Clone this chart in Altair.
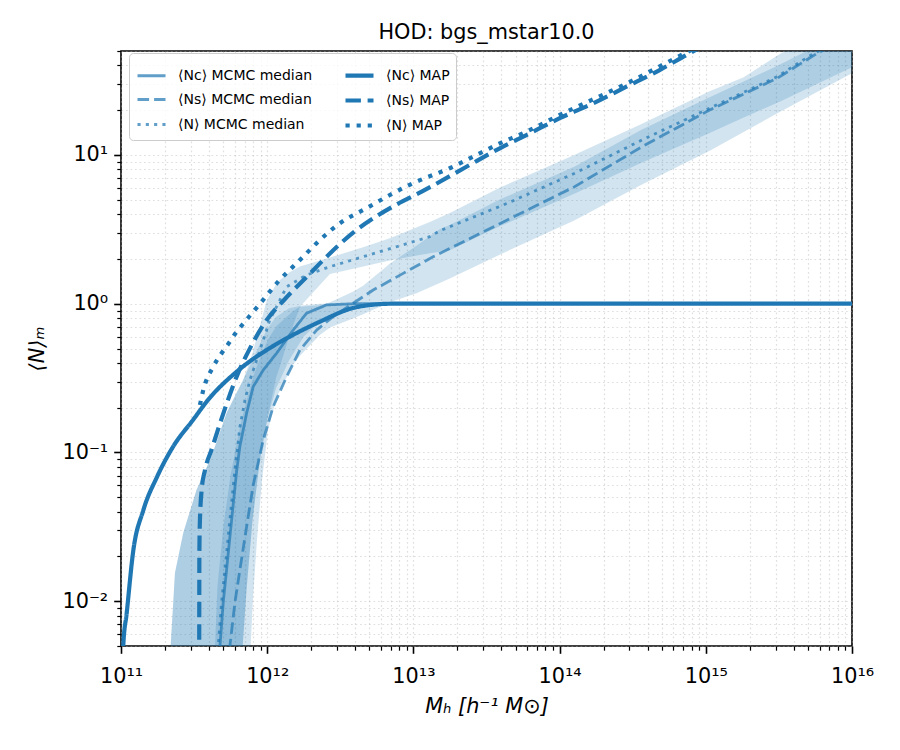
import numpy as np
import pandas as pd
import altair as alt

# ---------------- data (log10 values) ----------------
# MAP curves
map_nc_logm = [11.000, 11.016, 11.039, 11.084, 11.152, 11.246, 11.355, 11.492, 11.595,
               11.791, 12.018, 12.176, 12.360, 12.586, 12.700, 12.850, 16.000]
map_nc_logn = [-3.00, -2.29, -2.08, -1.66, -1.39, -1.165, -0.963, -0.782, -0.647,
               -0.457, -0.298, -0.210, -0.121, -0.029, -0.009, 0.000, 0.000]

map_ns_logm = [11.534, 11.535, 11.536, 11.540, 11.552, 11.574, 11.620, 11.699, 11.791,
               11.882, 11.996, 12.120, 12.290, 12.400, 12.590, 12.750, 12.880, 13.060,
               13.363, 13.591, 13.773, 14.001, 14.228, 14.457, 14.684, 14.889, 15.200, 16.000]
map_ns_logn = [-3.00, -2.30, -1.68, -1.45, -1.25, -1.12, -0.98, -0.74, -0.49,
               -0.30, -0.11, 0.03, 0.20, 0.31, 0.48, 0.59, 0.665, 0.755,
               0.921, 1.045, 1.134, 1.247, 1.347, 1.459, 1.571, 1.684, 1.84, 2.24]

map_n_logm = [11.540, 11.563, 11.631, 11.688, 11.745, 11.791, 11.848, 11.904, 11.962,
              12.018, 12.075, 12.224, 12.360, 12.497, 12.679, 12.839, 12.998, 13.271,
              13.431, 13.591, 13.750, 14.001, 14.457, 14.889, 15.200, 16.000]
map_n_logn = [-0.681, -0.580, -0.423, -0.333, -0.255, -0.188, -0.121, -0.054, 0.013,
              0.081, 0.148, 0.294, 0.428, 0.541, 0.642, 0.731, 0.810, 0.921,
              1.000, 1.078, 1.146, 1.269, 1.48, 1.70, 1.85, 2.24]

# MCMC medians
med_nc_logm = [11.670, 11.677, 11.699, 11.722, 11.757, 11.791, 11.813, 11.859, 11.904,
               11.973, 12.064, 12.178, 12.269, 12.406, 12.588, 16.000]
med_nc_logn = [-3.00, -2.30, -2.01, -1.79, -1.45, -1.125, -0.96, -0.737, -0.558,
               -0.446, -0.333, -0.177, -0.064, -0.008, 0.000, 0.000]

med_ns_logm = [11.740, 11.745, 11.779, 11.813, 11.859, 11.904, 11.973, 12.041, 12.133,
               12.224, 12.338, 12.451, 12.588, 12.725, 12.930, 13.135, 13.642, 14.103,
               14.564, 15.026, 15.487, 15.763, 16.000]
med_ns_logn = [-3.00, -2.30, -2.01, -1.79, -1.50, -1.22, -0.916, -0.692, -0.491,
               -0.311, -0.177, -0.087, 0.003, 0.092, 0.204, 0.316, 0.563, 0.787,
               1.056, 1.302, 1.515, 1.684, 1.80]

med_n_logm = [11.660, 11.665, 11.688, 11.711, 11.745, 11.779, 11.813, 11.848, 11.882,
              11.928, 11.973, 12.018, 12.064, 12.133, 12.269, 12.429, 12.656, 12.884,
              13.112, 13.180, 13.642, 14.103, 14.564, 15.026, 15.487, 15.740, 16.000]
med_n_logn = [-3.00, -2.30, -2.01, -1.79, -1.45, -1.12, -0.83, -0.647, -0.513,
              -0.378, -0.244, -0.109, -0.020, 0.114, 0.193, 0.249, 0.316, 0.383,
              0.451, 0.49, 0.675, 0.877, 1.101, 1.314, 1.526, 1.684, 1.80]

# MCMC 16-84 % bands
band_nc_logm = [11.300, 11.340, 11.369, 11.426, 11.517, 11.608, 11.643, 11.722, 11.800,
                11.832, 11.860, 11.900, 11.950, 12.000, 12.060, 12.150, 12.250, 12.360,
                12.500, 12.700, 13.000, 16.000]
band_nc_hi = [-2.60, -2.30, -1.81, -1.54, -1.25, -1.05, -0.96, -0.735, -0.58,
              -0.52, -0.46, -0.38, -0.27, -0.17, -0.09, -0.03, -0.01, 0.0,
              0.0, 0.0, 0.0, 0.0]
band_nc_lo = [-2.60, -2.60, -2.60, -2.60, -2.60, -2.60, -2.60, -2.60, -2.60,
              -2.30, -1.90, -1.45, -1.05, -0.78, -0.57, -0.38, -0.22, -0.12,
              -0.05, -0.015, -0.003, 0.0]

band_ns_logm = [11.600, 11.643, 11.660, 11.700, 11.750, 11.820, 11.887, 11.902, 11.930,
                11.964, 12.005, 12.064, 12.176, 12.224, 12.360, 12.430, 12.586, 12.656,
                12.816, 12.839, 13.021, 13.180, 13.249, 13.590, 14.100, 14.560, 15.030,
                15.490, 16.000]
band_ns_hi = [-2.60, -2.30, -1.90, -1.50, -1.15, -0.80, -0.55, -0.50, -0.42,
              -0.34, -0.24, -0.15, -0.05, -0.02, -0.01, 0.01, 0.08, 0.12,
              0.25, 0.27, 0.39, 0.50, 0.53, 0.70, 0.92, 1.17, 1.39,
              1.60, 1.85]
band_ns_lo = [-2.60, -2.60, -2.60, -2.60, -2.60, -2.60, -2.30, -1.99, -1.59,
              -1.19, -0.85, -0.63, -0.41, -0.35, -0.21, -0.16, -0.10, -0.07,
              0.00, 0.01, 0.07, 0.14, 0.17, 0.33, 0.56, 0.80, 1.03,
              1.28, 1.55]

band_n_logm = [11.300, 11.340, 11.369, 11.426, 11.517, 11.608, 11.643, 11.722, 11.800,
               11.832, 11.859, 11.900, 11.950, 11.996, 12.060, 12.087, 12.150, 12.224,
               12.429, 12.656, 12.839, 13.112, 13.249, 13.590, 13.871, 14.100, 14.564,
               15.030, 15.256, 15.509, 16.000]
band_n_hi = [-2.60, -2.30, -1.81, -1.54, -1.25, -1.05, -0.96, -0.735, -0.58,
             -0.52, -0.45, -0.33, -0.15, 0.02, 0.13, 0.16, 0.21, 0.25,
             0.31, 0.38, 0.44, 0.55, 0.61, 0.78, 0.90, 1.00, 1.21,
             1.43, 1.52, 1.68, 1.92]
band_n_lo = [-2.60, -2.60, -2.60, -2.60, -2.60, -2.60, -2.60, -2.60, -2.60,
             -2.30, -1.92, -1.45, -1.05, -0.80, -0.50, -0.42, -0.22, -0.02,
             0.20, 0.25, 0.29, 0.34, 0.36, 0.52, 0.64, 0.74, 0.95,
             1.15, 1.25, 1.36, 1.59]

# legend order (column-major, as in the reference)
series_names = ["⟨Nc⟩ MCMC median", "⟨Ns⟩ MCMC median", "⟨N⟩ MCMC median",
                "⟨Nc⟩ MAP", "⟨Ns⟩ MAP", "⟨N⟩ MAP"]

x_major_exp = [11, 12, 13, 14, 15, 16]
x_major_lbl = ["10¹¹", "10¹²", "10¹³", "10¹⁴", "10¹⁵", "10¹⁶"]
y_major_exp = [-2, -1, 0, 1]
y_major_lbl = ["10⁻²", "10⁻¹", "10⁰", "10¹"]

# ---------------- tables ----------------
line_sets = [
    (series_names[0], med_nc_logm, med_nc_logn),
    (series_names[1], med_ns_logm, med_ns_logn),
    (series_names[2], med_n_logm, med_n_logn),
    (series_names[3], map_nc_logm, map_nc_logn),
    (series_names[4], map_ns_logm, map_ns_logn),
    (series_names[5], map_n_logm, map_n_logn),
]
rows = []
for name, lm, ln in line_sets:
    for a, b in zip(lm, ln):
        rows.append({"series": name, "mh": 10.0 ** a, "n": 10.0 ** b,
                     "kind": "MAP" if "MAP" in name else "MCMC"})
lines_df = pd.DataFrame(rows)

band_sets = [
    ("Nc", band_nc_logm, band_nc_lo, band_nc_hi),
    ("Ns", band_ns_logm, band_ns_lo, band_ns_hi),
    ("N", band_n_logm, band_n_lo, band_n_hi),
]
brows = []
for name, lm, lo, hi in band_sets:
    for a, l, h in zip(lm, lo, hi):
        brows.append({"band": name, "mh": 10.0 ** a, "lo": 10.0 ** l, "hi": 10.0 ** h})
bands_df = pd.DataFrame(brows)

# ---------------- axes ----------------
E = "round(log(datum.value)/LN10)"
MAJOR = "abs(log(datum.value)/LN10 - round(log(datum.value)/LN10)) < 0.001"


def label_expr(exps, lbls):
    chain = "''"
    for e, l in reversed(list(zip(exps, lbls))):
        chain = f"({E} == {e} ? '{l}' : {chain})"
    return f"{MAJOR} ? {chain} : ''"


x_ticks = []
for e in range(11, 16):
    x_ticks += [k * 10.0 ** e for k in range(1, 10)]
x_ticks.append(1e16)
y_ticks = [k * 1e-3 for k in range(5, 10)]
for e in range(-2, 2):
    y_ticks += [k * 10.0 ** e for k in range(1, 10)]
y_ticks = [v for v in y_ticks if v <= 50.0001]

tick_size = {"condition": {"test": MAJOR, "value": 7.3}, "value": 4.2}
tick_width = {"condition": {"test": MAJOR, "value": 1.6}, "value": 1.2}

x_axis = alt.Axis(values=x_ticks, labelExpr=label_expr(x_major_exp, x_major_lbl),
                  tickSize=tick_size, tickWidth=tick_width, labelPadding=13,
                  title="Mₕ [h⁻¹ M⊙]", titleFontStyle="italic", titlePadding=10,
                  orient="bottom")
y_axis = alt.Axis(values=y_ticks, labelExpr=label_expr(y_major_exp, y_major_lbl),
                  tickSize=tick_size, tickWidth=tick_width, labelPadding=6,
                  title="⟨N⟩ₘ", titleFontStyle="italic", titlePadding=14,
                  orient="left")

x_scale = alt.Scale(type="log", domain=[1e11, 1e16], nice=False)
y_scale = alt.Scale(type="log", domain=[0.005, 50], nice=False)

bands = alt.Chart(bands_df).mark_area(clip=True, color="#1f77b4", opacity=0.2).encode(
    x=alt.X("mh:Q", scale=x_scale, axis=x_axis),
    y=alt.Y("lo:Q", scale=y_scale, axis=y_axis),
    y2="hi:Q",
    detail="band:N",
)

legend = alt.Legend(title=None, columns=2, orient="none", legendX=8, legendY=2,
                    symbolType="stroke", symbolSize=784, labelFontSize=14,
                    labelFont="DejaVu Sans", labelColor="black", labelLimit=400,
                    rowPadding=-3.5, columnPadding=24, labelOffset=10, padding=6,
                    fillColor="rgba(255,255,255,0.8)", strokeColor="#cccccc",
                    cornerRadius=4)

enc = dict(
    x=alt.X("mh:Q", scale=x_scale, axis=x_axis),
    y=alt.Y("n:Q", scale=y_scale, axis=y_axis),
    color=alt.Color("series:N", sort=series_names,
                    scale=alt.Scale(type="ordinal", domain=series_names,
                                    range=["#1f77b4"] * 6), legend=legend),
    opacity=alt.Opacity("series:N", sort=series_names,
                        scale=alt.Scale(type="ordinal", domain=series_names,
                                        range=[0.7, 0.7, 0.7, 1, 1, 1]),
                        legend=legend),
    strokeWidth=alt.StrokeWidth("series:N", sort=series_names,
                                scale=alt.Scale(type="ordinal", domain=series_names,
                                                range=[2.8, 2.8, 2.8, 4.2, 4.2, 4.2]),
                                legend=legend),
    strokeDash=alt.StrokeDash("series:N", sort=series_names,
                              scale=alt.Scale(type="ordinal", domain=series_names, range=[
                                  [1, 0], [11.6, 5.0], [3.1, 5.2],
                                  [1, 0], [15.4, 6.7], [4.2, 6.9]]), legend=legend),
    detail="series:N",
)

lines_mcmc = alt.Chart(lines_df).transform_filter(alt.datum.kind == "MCMC").mark_line(
    clip=True, strokeJoin="round").encode(**enc)
lines_map = alt.Chart(lines_df).transform_filter(alt.datum.kind == "MAP").mark_line(
    clip=True, strokeJoin="round", interpolate="monotone").encode(**enc)

chart = alt.layer(bands, lines_mcmc, lines_map).properties(
    width=731, height=595,
    title=alt.TitleParams("HOD: bgs_mstar10.0", font="DejaVu Sans", fontSize=20.8,
                          fontWeight="normal", color="black", anchor="middle", offset=-4),
    autosize=alt.AutoSizeParams(type="none"),
    padding={"left": 121, "top": 51, "right": 48, "bottom": 104},
).configure_view(
    stroke="black", strokeWidth=1.6
).configure_axis(
    labelFont="DejaVu Sans", labelFontSize=20.8, labelColor="black",
    titleFont="DejaVu Sans", titleFontSize=20.8, titleFontWeight="normal", titleColor="black",
    tickColor="black", domain=False, grid=True, gridColor="#b0b0b0", gridOpacity=0.4,
    gridDash=[1.7, 2.8], gridWidth=1.2, labelFlush=False, labelOverlap=False,
)

chart.save("out.html", embed_options={"renderer": "svg", "actions": False})
